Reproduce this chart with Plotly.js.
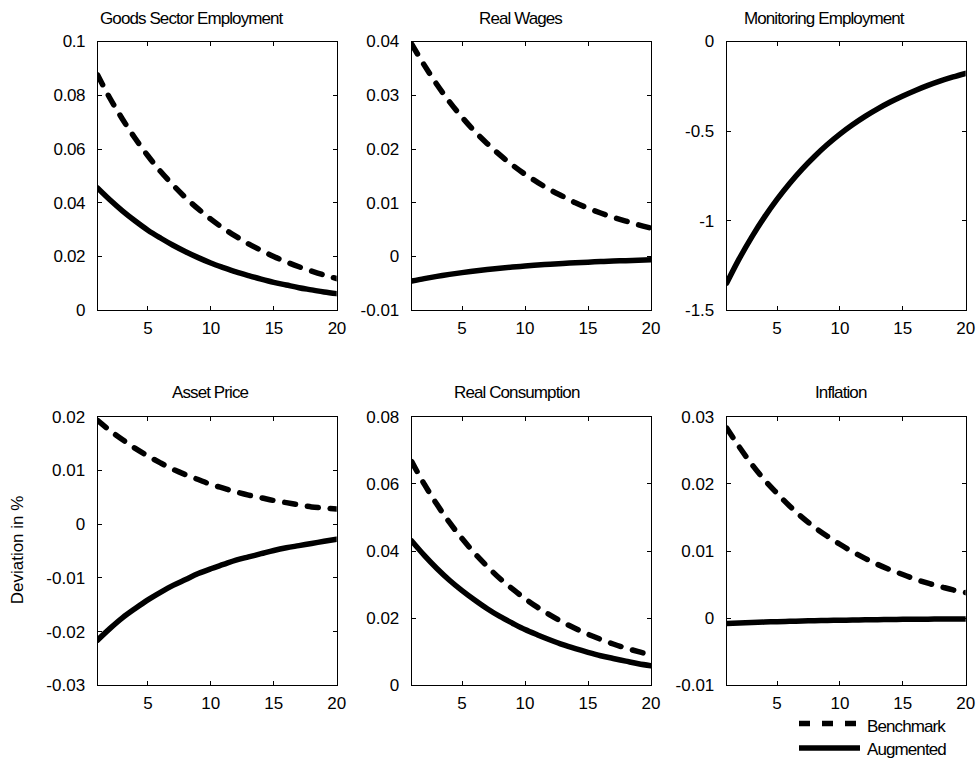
<!DOCTYPE html>
<html><head><meta charset="utf-8">
<script src="https://cdn.plot.ly/plotly-3.0.1.min.js"></script>
<style>
body{margin:0;background:#fff}
#chart{width:977px;height:765px}
.annotation-text{letter-spacing:-0.9px}
.annotation[data-index="0"] .annotation-text{letter-spacing:0px}
.xtick text,.ytick text{letter-spacing:-0.4px}
.scatterlayer .js-line{stroke-linecap:round}
</style></head><body><div id="chart"></div>
<script>
const periods = [1,2,3,4,5,6,7,8,9,10,11,12,13,14,15,16,17,18,19,20];
const panelTitles = ['Goods Sector Employment','Real Wages','Monitoring Employment','Asset Price','Real Consumption','Inflation'];
const seriesNames = ['Benchmark','Augmented'];

const goodsBench = [0.0876,0.0788,0.0710,0.0639,0.0575,0.0517,0.0466,0.0419,0.0377,0.0339,0.0305,0.0275,0.0247,0.0223,0.0200,0.0180,0.0162,0.0146,0.0131,0.0118];
const goodsAug   = [0.0455,0.0410,0.0369,0.0332,0.0298,0.0269,0.0242,0.0218,0.0196,0.0176,0.0159,0.0143,0.0129,0.0116,0.0104,0.0094,0.0084,0.0076,0.0068,0.0062];

const wagesBench = [0.0395,0.0356,0.0320,0.0288,0.0259,0.0233,0.0210,0.0189,0.0170,0.0153,0.0138,0.0124,0.0112,0.0100,0.0090,0.0081,0.0073,0.0066,0.0059,0.0053];
const wagesAug   = [-0.00455,-0.00410,-0.00369,-0.00332,-0.00299,-0.00269,-0.00242,-0.00218,-0.00196,-0.00176,-0.00159,-0.00143,-0.00129,-0.00116,-0.00104,-0.00094,-0.00084,-0.00076,-0.00068,-0.00061];

const monitorAug = [-1.348,-1.212,-1.090,-0.980,-0.881,-0.792,-0.712,-0.640,-0.575,-0.517,-0.465,-0.418,-0.376,-0.338,-0.304,-0.273,-0.245,-0.220,-0.198,-0.178];

const assetBench = [0.0193,0.0174,0.0157,0.0141,0.0127,0.0114,0.0102,0.0092,0.0083,0.0074,0.0067,0.0060,0.0054,0.0049,0.0044,0.0040,0.0036,0.0032,0.0030,0.0028];
const assetAug   = [-0.0216,-0.0194,-0.0174,-0.0157,-0.0141,-0.0127,-0.0114,-0.0103,-0.0092,-0.0083,-0.0075,-0.0067,-0.0061,-0.0055,-0.0049,-0.0044,-0.0040,-0.0036,-0.0032,-0.0028];

const consBench = [0.0666,0.0599,0.0539,0.0485,0.0437,0.0393,0.0354,0.0318,0.0287,0.0258,0.0232,0.0209,0.0188,0.0169,0.0152,0.0137,0.0123,0.0111,0.0100,0.0090];
const consAug   = [0.0430,0.0387,0.0348,0.0313,0.0282,0.0254,0.0228,0.0205,0.0185,0.0166,0.0150,0.0135,0.0121,0.0109,0.0098,0.0088,0.0080,0.0072,0.0064,0.0058];

const inflBench = [0.0283,0.0255,0.0229,0.0206,0.0186,0.0167,0.0150,0.0135,0.0122,0.0110,0.0099,0.0089,0.0080,0.0072,0.0065,0.0058,0.0052,0.0047,0.0042,0.0038];
const inflAug   = [-0.00080,-0.00072,-0.00065,-0.00058,-0.00052,-0.00047,-0.00042,-0.00038,-0.00034,-0.00031,-0.00028,-0.00025,-0.00022,-0.00020,-0.00018,-0.00016,-0.00015,-0.00013,-0.00012,-0.00011];

const xTickVals = [5,10,15,20];
const xTickText = ['5','10','15','20'];

const yTickVals = [
  [0,0.02,0.04,0.06,0.08,0.1],
  [-0.01,0,0.01,0.02,0.03,0.04],
  [-1.5,-1,-0.5,0],
  [-0.03,-0.02,-0.01,0,0.01,0.02],
  [0,0.02,0.04,0.06,0.08],
  [-0.01,0,0.01,0.02,0.03]
];
const yTickText = [
  ['0','0.02','0.04','0.06','0.08','0.1'],
  ['-0.01','0','0.01','0.02','0.03','0.04'],
  ['-1.5','-1','-0.5','0'],
  ['-0.03','-0.02','-0.01','0','0.01','0.02'],
  ['0','0.02','0.04','0.06','0.08'],
  ['-0.01','0','0.01','0.02','0.03']
];
const yRanges = [[0,0.1],[-0.01,0.04],[-1.5,0],[-0.03,0.02],[0,0.08],[-0.01,0.03]];

const benchSeries = [goodsBench, wagesBench, null, assetBench, consBench, inflBench];
const augSeries   = [goodsAug, wagesAug, monitorAug, assetAug, consAug, inflAug];

const W = 977, H = 765;
const FONT = 'Liberation Sans, Arial, sans-serif';
const colDom = [[97.5/W, 336.7/W],[411.7/W, 651/W],[726.7/W, 965.7/W]];
const rowDom = [[1-310.3/H, 1-41.5/H],[1-685.3/H, 1-416.7/H]];
const titleX = [98, 477, 742, 170, 452, 813];
const titleY = [18, 393];

const dashStyle = '11px,12px';
const LW = 5.5;

const traces = [];
const layout = {
  width: W, height: H,
  margin: {l:0, r:0, t:0, b:0},
  paper_bgcolor: '#fff', plot_bgcolor: '#fff',
  showlegend: false,
  font: {family: FONT, color: '#000', size: 17},
  annotations: [], shapes: []
};

layout.annotations.push({
  text: 'Deviation in %', xref: 'paper', yref: 'paper',
  x: 17/W, y: 1-550/H, xanchor: 'center', yanchor: 'middle',
  textangle: -90, showarrow: false, font: {family: FONT, size: 17, color: '#000'}
});

for (let i = 0; i < 6; i++) {
  const r = Math.floor(i/3), c = i % 3;
  const xa = 'xaxis' + (i === 0 ? '' : i+1);
  const ya = 'yaxis' + (i === 0 ? '' : i+1);
  const xr = 'x' + (i === 0 ? '' : i+1);
  const yr = 'y' + (i === 0 ? '' : i+1);
  const common = {
    ticks: 'inside', ticklen: 4, tickwidth: 1, tickcolor: '#000',
    showline: true, linecolor: '#000', linewidth: 1, mirror: 'ticks',
    showgrid: false, zeroline: false, fixedrange: true,
    tickfont: {family: FONT, size: 17, color: '#000'},
    tickmode: 'array', automargin: false
  };
  layout[xa] = Object.assign({}, common, {
    domain: colDom[c], range: [1, 20], anchor: yr,
    tickvals: xTickVals, ticktext: xTickText, ticklabelstandoff: 2
  });
  layout[ya] = Object.assign({}, common, {
    domain: rowDom[r], range: yRanges[i], anchor: xr,
    tickvals: yTickVals[i], ticktext: yTickText[i], ticklabelstandoff: 8
  });
  if (benchSeries[i]) {
    traces.push({x: periods, y: benchSeries[i], xaxis: xr, yaxis: yr, type: 'scatter', mode: 'lines',
      name: seriesNames[0], line: {color: '#000', width: LW, dash: dashStyle, shape: 'spline', smoothing: 1},
      hoverinfo: 'skip', cliponaxis: false});
  }
  traces.push({x: periods, y: augSeries[i], xaxis: xr, yaxis: yr, type: 'scatter', mode: 'lines',
    name: seriesNames[1], line: {color: '#000', width: LW, shape: 'spline', smoothing: 1},
    hoverinfo: 'skip', cliponaxis: false});
  layout.annotations.push({
    text: panelTitles[i], xref: 'paper', yref: 'paper',
    x: titleX[i]/W, y: 1-titleY[r]/H, xanchor: 'left', yanchor: 'middle',
    showarrow: false, font: {family: FONT, size: 17, color: '#000'}
  });
}

// legend (drawn as swatches + labels)
const legLineY = [723.5, 748];
const legTextY = [726, 749];
for (let k = 0; k < 2; k++) {
  layout.shapes.push({
    type: 'line', xref: 'paper', yref: 'paper',
    x0: 799/W, x1: 860/W, y0: 1-legLineY[k]/H, y1: 1-legLineY[k]/H,
    line: {color: '#000', width: LW, dash: k === 0 ? dashStyle : 'solid'}
  });
  layout.annotations.push({
    text: seriesNames[k], xref: 'paper', yref: 'paper',
    x: 866/W, y: 1-legTextY[k]/H, xanchor: 'left', yanchor: 'middle', borderpad: 0,
    showarrow: false, font: {family: FONT, size: 17, color: '#000'}
  });
}

Plotly.newPlot('chart', traces, layout, {staticPlot: true, displayModeBar: false});
</script></body></html>
